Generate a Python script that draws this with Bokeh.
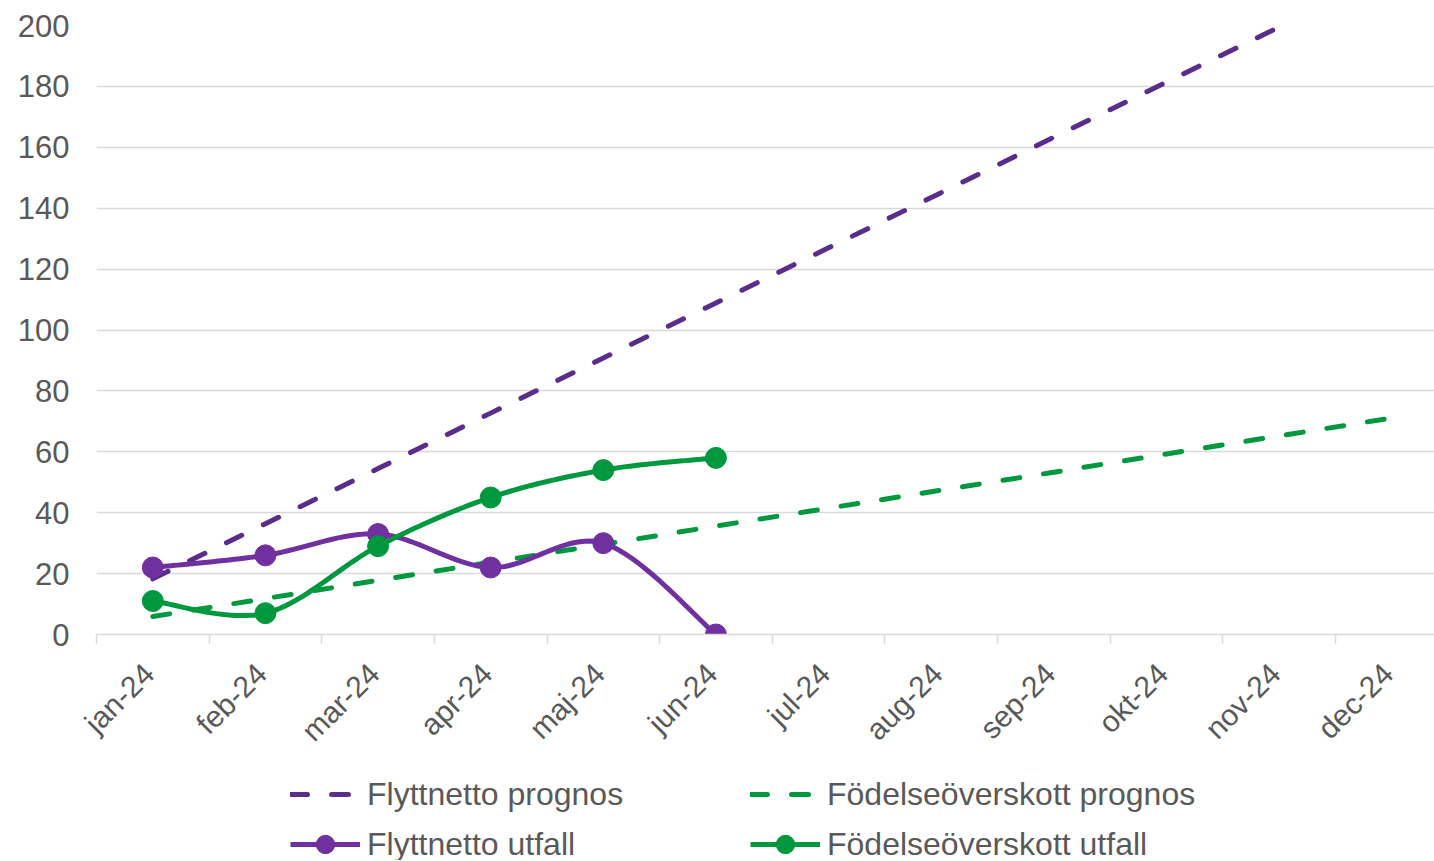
import numpy as np
from bokeh.plotting import figure
from bokeh.layouts import column
from bokeh.models import FixedTicker, Legend, LegendItem, Range1d, CustomJSTickFormatter
from bokeh.embed import file_html
from bokeh.resources import INLINE

months = ["jan-24", "feb-24", "mar-24", "apr-24", "maj-24", "jun-24",
          "jul-24", "aug-24", "sep-24", "okt-24", "nov-24", "dec-24"]
flytt_prognos = [18.3, 36.4, 54.5, 72.7, 90.8, 108.9, 127.0, 145.1, 163.3, 181.4, 199.5]
fodel_prognos = [5.9, 11.8, 17.8, 23.7, 29.6, 35.6, 41.5, 47.4, 53.3, 59.3, 65.2, 71.1]
flytt_utfall = [22, 26, 33, 22, 30, 0]
fodel_utfall = [11, 7, 29, 45, 54, 58]
y_ticks = [0, 20, 40, 60, 80, 100, 120, 140, 160, 180, 200]

PURPLE_DASH = "#5b2d8a"
PURPLE = "#7030a0"
GREEN = "#00983f"
TXT = "#595959"
GRID = "#d9d9d9"
FONT = "Liberation Sans"

LEFT = 96
TOP = 25
PLOT_H = 609
BOTTOM = 130
MAIN_H = TOP + PLOT_H + BOTTOM
LEG_H = 860 - MAIN_H


def smooth(ys, n=24):
    pts = np.column_stack([np.arange(len(ys), dtype=float), np.array(ys, dtype=float)])
    xs_out, ys_out = [], []
    m = len(pts)
    for i in range(m - 1):
        p0 = pts[max(i - 1, 0)]
        p1 = pts[i]
        p2 = pts[i + 1]
        p3 = pts[min(i + 2, m - 1)]
        c1 = p1 + (p2 - p0) / 6.0
        c2 = p2 - (p3 - p1) / 6.0
        t = np.linspace(0, 1, n, endpoint=(i == m - 2))[:, None]
        b = ((1 - t) ** 3) * p1 + 3 * ((1 - t) ** 2) * t * c1 + 3 * (1 - t) * t ** 2 * c2 + t ** 3 * p2
        xs_out.extend(b[:, 0].tolist())
        ys_out.extend(b[:, 1].tolist())
    return xs_out, ys_out


p = figure(width=1434, height=MAIN_H, output_backend="svg", toolbar_location=None,
           x_range=Range1d(-0.5, 11.38), y_range=Range1d(0, 200),
           min_border_left=LEFT, min_border_top=TOP, min_border_right=0, min_border_bottom=BOTTOM)
p.outline_line_color = None
p.background_fill_color = "white"
p.border_fill_color = "white"

# grid
p.xgrid.grid_line_color = None
p.ygrid.grid_line_color = GRID
p.ygrid.grid_line_width = 1.5
p.ygrid.ticker = FixedTicker(ticks=y_ticks)

# y axis
p.yaxis.ticker = FixedTicker(ticks=y_ticks)
p.yaxis.axis_line_color = None
p.yaxis.major_tick_line_color = None
p.yaxis.minor_tick_line_color = None
p.yaxis.major_tick_out = 0
p.yaxis.major_label_standoff = 27
p.yaxis.major_label_text_font = FONT
p.yaxis.major_label_text_font_size = "31px"
p.yaxis.major_label_text_color = TXT

# x axis
p.xaxis.ticker = FixedTicker(ticks=[i - 0.035 for i in range(len(months))],
                             minor_ticks=[i - 0.5 for i in range(len(months) + 1)])
p.xaxis.formatter = CustomJSTickFormatter(args=dict(months=months),
                                          code="return months[Math.round(tick)] || '';")
p.xaxis.axis_line_color = GRID
p.xaxis.axis_line_width = 1.5
p.xaxis.major_tick_line_color = None
p.xaxis.major_tick_out = 0
p.xaxis.major_tick_in = 0
p.xaxis.minor_tick_line_color = GRID
p.xaxis.minor_tick_line_width = 1.5
p.xaxis.minor_tick_out = 9
p.xaxis.minor_tick_in = 0
p.xaxis.major_label_orientation = np.pi / 4
p.xaxis.major_label_standoff = 25
p.xaxis.major_label_text_font = FONT
p.xaxis.major_label_text_font_size = "30px"
p.xaxis.major_label_text_color = TXT

# prognos lines
line_kw_dash = dict(line_width=5, line_dash="17 24", line_cap="round")
p.line(list(range(len(flytt_prognos))), flytt_prognos, line_color=PURPLE_DASH, **line_kw_dash)
p.line(list(range(len(fodel_prognos))), fodel_prognos, line_color=GREEN, **line_kw_dash)

# utfall lines
fx, fy = smooth(flytt_utfall)
p.line(fx, fy, line_color=PURPLE, line_width=5, line_join="round", line_cap="round")
p.scatter(list(range(len(flytt_utfall))), flytt_utfall, size=21, fill_color=PURPLE, line_color=PURPLE)
gx, gy = smooth(fodel_utfall)
p.line(gx, gy, line_color=GREEN, line_width=5, line_join="round", line_cap="round")
p.scatter(list(range(len(fodel_utfall))), fodel_utfall, size=21, fill_color=GREEN, line_color=GREEN)

# legend strip (its frame is aligned with the chart frame by the column layout)
q = figure(width=1434, height=LEG_H, output_backend="svg", toolbar_location=None,
           x_range=Range1d(0, 1), y_range=Range1d(0, 1),
           x_axis_location=None, y_axis_location=None,
           min_border_left=LEFT, min_border_right=0, min_border_top=0, min_border_bottom=0)
q.outline_line_color = None
q.xgrid.visible = False
q.ygrid.visible = False
q.border_fill_color = "white"

# legend proxies, placed outside the strip's visible range
hx, hy = [-5, -4], [-5, -4]
l_fp = q.line(hx, hy, line_color=PURPLE_DASH, **line_kw_dash)
l_gp = q.line(hx, hy, line_color=GREEN, **line_kw_dash)
l_fu = q.line(hx, hy, line_color=PURPLE, line_width=5)
m_fu = q.scatter(hx, hy, size=21, fill_color=PURPLE, line_color=PURPLE)
l_gu = q.line(hx, hy, line_color=GREEN, line_width=5)
m_gu = q.scatter(hx, hy, size=21, fill_color=GREEN, line_color=GREEN)


def make_legend(items, loc):
    return Legend(items=items, location=loc, orientation="vertical",
                  glyph_width=70, glyph_height=46, label_height=46, label_standoff=7,
                  spacing=4, padding=0, margin=0,
                  border_line_color=None, background_fill_alpha=0,
                  label_text_font=FONT, label_text_font_size="32px",
                  label_text_color=TXT)


q.add_layout(make_legend([LegendItem(label="Flyttnetto prognos", renderers=[l_fp]),
                          LegendItem(label="Flyttnetto utfall", renderers=[l_fu, m_fu])],
                         (290 - LEFT, -7)), "center")
q.add_layout(make_legend([LegendItem(label="Födelseöverskott prognos", renderers=[l_gp]),
                          LegendItem(label="Födelseöverskott utfall", renderers=[l_gu, m_gu])],
                         (750 - LEFT, -7)), "center")

layout = column(p, q, spacing=0)
open("out.html", "w").write(file_html(layout, INLINE))
